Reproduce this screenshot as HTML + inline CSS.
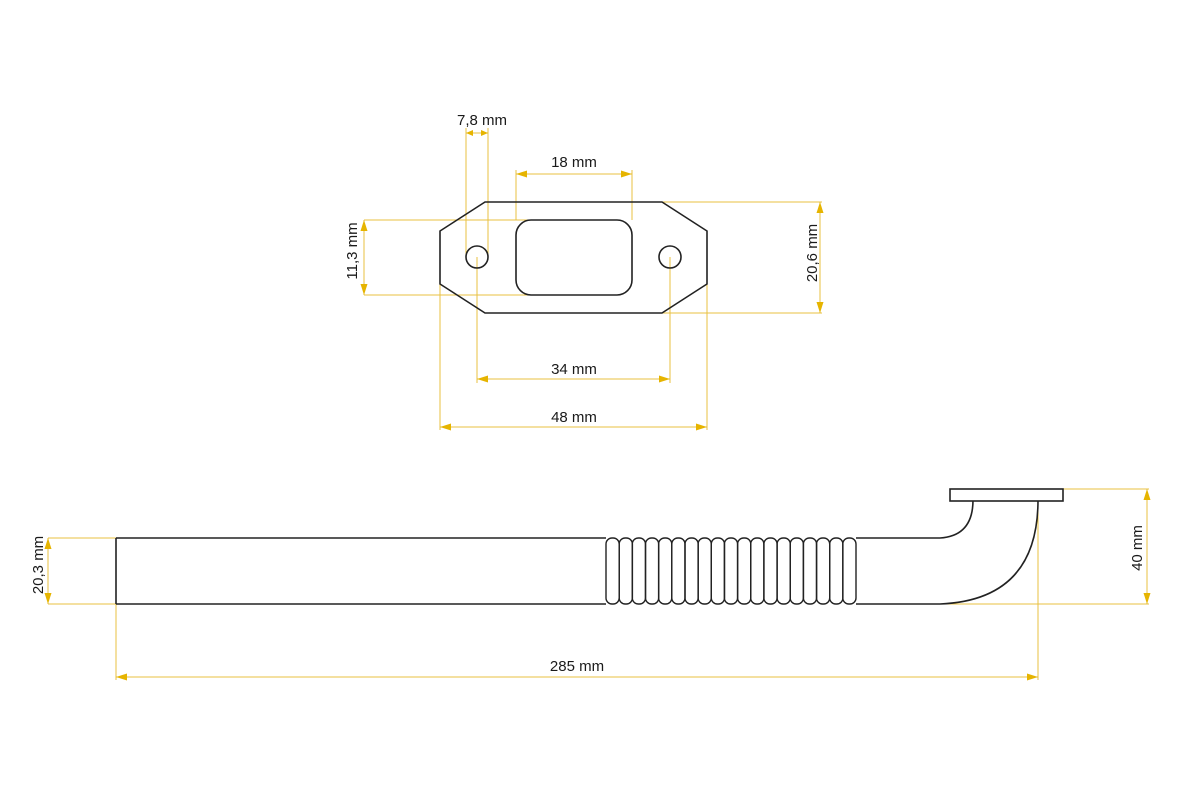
<!DOCTYPE html>
<html><head><meta charset="utf-8"><style>html,body{margin:0;padding:0;background:#fff}svg{display:block}</style></head><body>
<svg width="1200" height="800" viewBox="0 0 1200 800" xmlns="http://www.w3.org/2000/svg" font-family="Liberation Sans, sans-serif">
<defs>
<marker id="a" markerWidth="12" markerHeight="8" refX="11" refY="4" orient="auto-start-reverse" markerUnits="userSpaceOnUse">
<polygon points="0,0.5 11,4 0,7.5" fill="#e6b400"/></marker>
<marker id="s" markerWidth="8" markerHeight="8" refX="7" refY="4" orient="auto-start-reverse" markerUnits="userSpaceOnUse">
<polygon points="0,1 7,4 0,7" fill="#e6b400"/></marker>
</defs>
<g stroke="#e8c040" stroke-width="1" fill="none">
<line x1="466" y1="128" x2="466" y2="257"/><line x1="488" y1="128" x2="488" y2="257"/>
<line x1="466" y1="133" x2="488" y2="133" marker-start="url(#s)" marker-end="url(#s)"/>
<line x1="516" y1="170" x2="516" y2="220"/><line x1="632" y1="170" x2="632" y2="220"/>
<line x1="516" y1="174" x2="632" y2="174" marker-start="url(#a)" marker-end="url(#a)"/>
<line x1="364" y1="220" x2="530" y2="220"/><line x1="364" y1="295" x2="530" y2="295"/>
<line x1="364" y1="220" x2="364" y2="295" marker-start="url(#a)" marker-end="url(#a)"/>
<line x1="662" y1="202" x2="822" y2="202"/><line x1="662" y1="313" x2="822" y2="313"/>
<line x1="820" y1="202" x2="820" y2="313" marker-start="url(#a)" marker-end="url(#a)"/>
<line x1="477" y1="257" x2="477" y2="383"/><line x1="670" y1="257" x2="670" y2="383"/>
<line x1="477" y1="379" x2="670" y2="379" marker-start="url(#a)" marker-end="url(#a)"/>
<line x1="440" y1="284" x2="440" y2="430"/><line x1="707" y1="284" x2="707" y2="430"/>
<line x1="440" y1="427" x2="707" y2="427" marker-start="url(#a)" marker-end="url(#a)"/>
<line x1="48" y1="538" x2="116" y2="538"/><line x1="48" y1="604" x2="116" y2="604"/>
<line x1="48" y1="538" x2="48" y2="604" marker-start="url(#a)" marker-end="url(#a)"/>
<line x1="1063" y1="489" x2="1149" y2="489"/><line x1="940" y1="604" x2="1149" y2="604"/>
<line x1="1147" y1="489" x2="1147" y2="604" marker-start="url(#a)" marker-end="url(#a)"/>
<line x1="116" y1="604" x2="116" y2="680"/><line x1="1038" y1="510" x2="1038" y2="680"/>
<line x1="116" y1="677" x2="1038" y2="677" marker-start="url(#a)" marker-end="url(#a)"/>
</g>
<g stroke="#222" stroke-width="1.6" fill="none">
<polygon points="485,202 662,202 707,231 707,284 662,313 485,313 440,284 440,231" fill="none"/>
<rect x="516" y="220" width="116" height="75" rx="15"/>
<circle cx="477" cy="257" r="11"/><circle cx="670" cy="257" r="11"/>
<line x1="116" y1="538" x2="116" y2="604"/>
<line x1="116" y1="538" x2="606" y2="538"/><line x1="116" y1="604" x2="606" y2="604"/>
<path d="M856 538 L940 538 Q973 536 973 500"/>
<path d="M856 604 L940 604 Q1038 600 1038 500"/>
<rect x="950" y="489" width="113" height="12" fill="#fff"/>
<g stroke-width="1.4">
<rect x="606" y="538" width="13.2" height="66" rx="6"/><rect x="619.2" y="538" width="13.2" height="66" rx="6"/>
<rect x="632.3" y="538" width="13.2" height="66" rx="6"/><rect x="645.5" y="538" width="13.2" height="66" rx="6"/>
<rect x="658.6" y="538" width="13.2" height="66" rx="6"/><rect x="671.8" y="538" width="13.2" height="66" rx="6"/>
<rect x="685" y="538" width="13.2" height="66" rx="6"/><rect x="698.1" y="538" width="13.2" height="66" rx="6"/>
<rect x="711.3" y="538" width="13.2" height="66" rx="6"/><rect x="724.4" y="538" width="13.2" height="66" rx="6"/>
<rect x="737.6" y="538" width="13.2" height="66" rx="6"/><rect x="750.7" y="538" width="13.2" height="66" rx="6"/>
<rect x="763.9" y="538" width="13.2" height="66" rx="6"/><rect x="777.1" y="538" width="13.2" height="66" rx="6"/>
<rect x="790.2" y="538" width="13.2" height="66" rx="6"/><rect x="803.4" y="538" width="13.2" height="66" rx="6"/>
<rect x="816.5" y="538" width="13.2" height="66" rx="6"/><rect x="829.7" y="538" width="13.2" height="66" rx="6"/>
<rect x="842.8" y="538" width="13.2" height="66" rx="6"/>
</g>
</g>
<g fill="#1a1a1a" font-size="15" text-anchor="middle">
<text x="482" y="125">7,8 mm</text>
<text x="574" y="167">18 mm</text>
<text x="574" y="374">34 mm</text>
<text x="574" y="422">48 mm</text>
<text x="577" y="671">285 mm</text>
<text transform="translate(357,251) rotate(-90)">11,3 mm</text>
<text transform="translate(817,253) rotate(-90)">20,6 mm</text>
<text transform="translate(43,565) rotate(-90)">20,3 mm</text>
<text transform="translate(1142,548) rotate(-90)">40 mm</text>
</g>
</svg>
</body></html>
